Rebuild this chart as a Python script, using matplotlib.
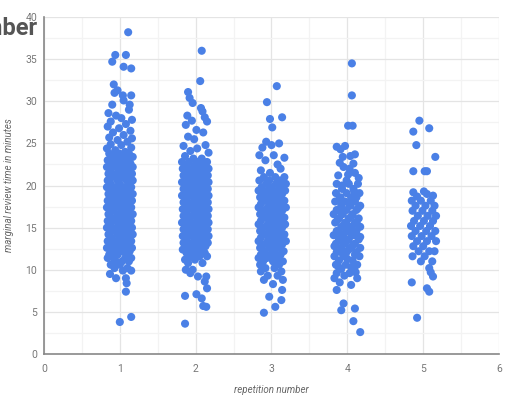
import matplotlib.pyplot as plt
from matplotlib.ticker import MultipleLocator

# (repetition + jitter, minutes), one list per repetition
rep1 = [
    (1.11, 38.2), (0.94, 35.5), (1.08, 35.5), (0.90, 34.7), (1.05, 34.1), (1.15, 33.9),
    (0.92, 32.0), (0.97, 31.3), (0.93, 31.0), (1.04, 30.7), (1.15, 30.7), (1.05, 30.1),
    (1.13, 29.6), (0.90, 29.6), (1.12, 29.0), (0.85, 28.6), (1.16, 27.8), (0.95, 28.3),
    (1.02, 28.0), (0.88, 27.6), (1.08, 27.3), (0.84, 27.0), (0.99, 26.8), (1.14, 26.5),
    (0.91, 26.3), (1.05, 26.0), (0.86, 25.7), (1.16, 25.6), (0.97, 25.4), (1.10, 25.2),
    (0.88, 24.9), (1.02, 24.8), (1.15, 24.5), (0.83, 24.4), (0.94, 24.2), (1.07, 24.0),
    (0.86, 23.8), (0.99, 23.8), (1.12, 23.8), (0.92, 23.4), (1.05, 23.4), (1.17, 23.4),
    (0.84, 23.0), (0.97, 23.0), (1.10, 23.0), (0.89, 22.6), (1.02, 22.6), (1.14, 22.6),
    (0.83, 22.2), (0.95, 22.2), (1.08, 22.2), (1.17, 22.2), (0.88, 21.8), (1.01, 21.8),
    (1.13, 21.8), (0.85, 21.4), (0.96, 21.4), (1.06, 21.4), (1.16, 21.4), (0.90, 21.0),
    (1.03, 21.0), (1.12, 21.0), (0.84, 20.6), (0.97, 20.6), (1.09, 20.6), (1.17, 20.6),
    (0.88, 20.2), (1.00, 20.2), (1.13, 20.2), (0.83, 19.8), (0.94, 19.8), (1.06, 19.8),
    (1.15, 19.8), (0.89, 19.4), (1.02, 19.4), (1.11, 19.4), (0.85, 19.0), (0.97, 19.0),
    (1.08, 19.0), (1.17, 19.0), (0.91, 18.6), (1.03, 18.6), (1.13, 18.6), (0.84, 18.2),
    (0.95, 18.2), (1.06, 18.2), (1.16, 18.2), (0.88, 17.8), (1.00, 17.8), (1.11, 17.8),
    (0.83, 17.4), (0.94, 17.4), (1.05, 17.4), (1.15, 17.4), (0.90, 17.0), (1.02, 17.0),
    (1.12, 17.0), (0.85, 16.6), (0.97, 16.6), (1.08, 16.6), (1.17, 16.6), (0.89, 16.2),
    (1.01, 16.2), (1.13, 16.2), (0.84, 15.8), (0.95, 15.8), (1.06, 15.8), (1.15, 15.8),
    (0.88, 15.4), (1.00, 15.4), (1.11, 15.4), (0.83, 15.0), (0.96, 15.0), (1.07, 15.0),
    (1.16, 15.0), (0.90, 14.6), (1.03, 14.6), (1.13, 14.6), (0.85, 14.2), (0.97, 14.2),
    (1.09, 14.2), (1.17, 14.2), (0.89, 13.8), (1.01, 13.8), (1.12, 13.8), (0.84, 13.4),
    (0.95, 13.4), (1.06, 13.4), (1.15, 13.4), (0.88, 13.0), (1.00, 13.0), (1.10, 13.0),
    (0.83, 12.6), (0.94, 12.6), (1.05, 12.6), (1.16, 12.6), (0.90, 12.2), (1.02, 12.2),
    (1.13, 12.2), (0.86, 11.8), (0.97, 11.8), (1.09, 11.8), (0.84, 11.4), (0.92, 11.4),
    (1.07, 11.4), (1.15, 11.4), (0.95, 11.0), (1.03, 11.0), (1.12, 11.0), (0.88, 10.6),
    (1.00, 10.6), (0.93, 10.2), (1.10, 10.2), (1.04, 9.9), (1.15, 9.9), (0.87, 9.5),
    (0.95, 9.0), (1.08, 9.0), (1.09, 8.4), (1.08, 7.4), (1.15, 4.4), (1.00, 3.8),
]

rep2 = [
    (2.08, 36.0), (2.06, 32.4), (1.90, 31.1), (1.92, 30.4), (1.96, 29.8), (2.07, 29.2),
    (2.09, 28.8), (2.12, 28.1), (1.89, 28.3), (1.95, 27.7), (1.87, 27.2), (2.15, 27.6),
    (2.01, 26.6), (2.10, 26.3), (1.90, 25.8), (1.98, 25.5), (1.84, 24.7), (2.02, 24.4),
    (2.13, 24.8), (1.93, 24.1), (2.17, 23.9), (1.86, 23.5), (1.97, 23.2), (2.08, 23.2),
    (1.82, 22.8), (1.91, 22.8), (2.03, 22.8), (2.15, 22.8), (1.87, 22.4), (1.99, 22.4),
    (2.10, 22.4), (1.83, 22.0), (1.95, 22.0), (2.05, 22.0), (2.17, 22.0), (1.89, 21.6),
    (2.01, 21.6), (2.12, 21.6), (1.84, 21.2), (1.96, 21.2), (2.07, 21.2), (2.16, 21.2),
    (1.90, 20.8), (2.02, 20.8), (2.12, 20.8), (1.82, 20.4), (1.94, 20.4), (2.06, 20.4),
    (2.17, 20.4), (1.88, 20.0), (2.00, 20.0), (2.11, 20.0), (1.84, 19.6), (1.96, 19.6),
    (2.07, 19.6), (2.16, 19.6), (1.90, 19.2), (2.02, 19.2), (2.13, 19.2), (1.82, 18.8),
    (1.95, 18.8), (2.06, 18.8), (2.17, 18.8), (1.88, 18.4), (2.00, 18.4), (2.11, 18.4),
    (1.84, 18.0), (1.96, 18.0), (2.07, 18.0), (2.16, 18.0), (1.90, 17.6), (2.02, 17.6),
    (2.13, 17.6), (1.83, 17.2), (1.95, 17.2), (2.06, 17.2), (2.17, 17.2), (1.88, 16.8),
    (2.00, 16.8), (2.11, 16.8), (1.84, 16.4), (1.96, 16.4), (2.07, 16.4), (2.16, 16.4),
    (1.90, 16.0), (2.02, 16.0), (2.13, 16.0), (1.82, 15.6), (1.94, 15.6), (2.06, 15.6),
    (2.17, 15.6), (1.88, 15.2), (2.00, 15.2), (2.11, 15.2), (1.84, 14.8), (1.96, 14.8),
    (2.07, 14.8), (2.16, 14.8), (1.90, 14.4), (2.02, 14.4), (2.13, 14.4), (1.83, 14.0),
    (1.95, 14.0), (2.06, 14.0), (2.17, 14.0), (1.88, 13.6), (2.00, 13.6), (2.11, 13.6),
    (1.84, 13.2), (1.96, 13.2), (2.07, 13.2), (2.16, 13.2), (1.90, 12.8), (2.02, 12.8),
    (2.13, 12.8), (1.83, 12.4), (1.95, 12.4), (2.06, 12.4), (1.88, 12.0), (2.00, 12.0),
    (2.12, 12.0), (1.93, 11.6), (2.05, 11.6), (2.15, 11.6), (1.86, 11.2), (1.99, 11.2),
    (1.90, 10.8), (2.09, 10.8), (1.87, 10.0), (1.96, 10.0), (1.93, 9.6), (2.14, 9.2),
    (2.03, 9.2), (2.12, 8.6), (2.15, 7.8), (1.86, 6.9), (2.01, 7.1), (2.08, 6.6),
    (2.10, 5.7), (2.14, 5.6), (1.86, 3.6),
]

rep3 = [
    (3.07, 31.8), (2.94, 29.9), (2.98, 27.9), (3.14, 28.1), (3.01, 26.9), (2.93, 25.2),
    (3.10, 25.0), (2.88, 24.5), (3.00, 24.8), (2.84, 23.6), (3.03, 23.6), (3.17, 23.3),
    (2.92, 23.0), (3.08, 22.5), (2.86, 21.8), (3.12, 22.0), (2.98, 21.5), (2.90, 21.0),
    (3.05, 21.0), (3.17, 21.0), (2.84, 20.6), (2.97, 20.6), (3.11, 20.6), (2.93, 20.2),
    (3.06, 20.2), (3.19, 20.2), (2.87, 19.8), (3.00, 19.8), (3.13, 19.8), (2.83, 19.4),
    (2.95, 19.4), (3.08, 19.4), (3.18, 19.4), (2.90, 19.0), (3.03, 19.0), (3.14, 19.0),
    (2.85, 18.6), (2.98, 18.6), (3.10, 18.6), (2.92, 18.2), (3.05, 18.2), (3.17, 18.2),
    (2.86, 17.8), (3.00, 17.8), (3.12, 17.8), (2.83, 17.4), (2.95, 17.4), (3.08, 17.4),
    (3.19, 17.4), (2.89, 17.0), (3.02, 17.0), (3.14, 17.0), (2.85, 16.6), (2.97, 16.6),
    (3.10, 16.6), (2.92, 16.2), (3.05, 16.2), (3.17, 16.2), (2.86, 15.8), (3.00, 15.8),
    (3.12, 15.8), (2.83, 15.4), (2.95, 15.4), (3.08, 15.4), (3.18, 15.4), (2.89, 15.0),
    (3.02, 15.0), (3.14, 15.0), (2.85, 14.6), (2.97, 14.6), (3.10, 14.6), (2.92, 14.2),
    (3.05, 14.2), (3.17, 14.2), (2.86, 13.8), (3.00, 13.8), (3.12, 13.8), (2.83, 13.4),
    (2.95, 13.4), (3.08, 13.4), (3.19, 13.4), (2.89, 13.0), (3.02, 13.0), (3.14, 13.0),
    (2.85, 12.6), (2.97, 12.6), (3.10, 12.6), (2.91, 12.2), (3.04, 12.2), (3.16, 12.2),
    (2.86, 11.8), (2.99, 11.8), (3.12, 11.8), (2.83, 11.4), (2.94, 11.4), (3.07, 11.4),
    (2.89, 11.0), (3.02, 11.0), (3.15, 11.0), (2.85, 10.6), (3.10, 10.6), (2.92, 10.2),
    (3.04, 10.2), (2.86, 9.8), (3.13, 9.8), (2.95, 9.3), (3.08, 9.3), (2.90, 8.8),
    (3.15, 8.8), (3.02, 8.3), (3.14, 7.6), (2.97, 6.8), (3.13, 6.4), (3.05, 5.6),
    (2.90, 4.9),
]

rep4 = [
    (4.06, 34.5), (4.06, 30.7), (4.01, 27.1), (4.07, 27.1), (3.86, 24.6), (3.97, 24.7),
    (3.91, 24.3), (4.10, 23.7), (3.94, 23.4), (4.04, 23.5), (3.95, 22.2), (4.03, 22.0),
    (4.10, 21.5), (4.15, 20.9), (3.88, 21.2), (3.99, 20.6), (3.86, 20.2), (4.02, 20.2),
    (4.14, 20.2), (3.93, 19.6), (4.08, 19.6), (3.85, 19.1), (3.99, 19.1), (4.16, 19.1),
    (3.91, 18.6), (4.05, 18.6), (4.12, 18.6), (3.84, 18.1), (3.97, 18.1), (4.10, 18.1),
    (3.92, 17.6), (4.04, 17.6), (4.17, 17.6), (3.86, 17.1), (3.99, 17.1), (4.12, 17.1),
    (3.82, 16.6), (3.94, 16.6), (4.07, 16.6), (3.89, 16.1), (4.02, 16.1), (4.15, 16.1),
    (3.84, 15.6), (3.97, 15.6), (4.10, 15.6), (3.92, 15.1), (4.05, 15.1), (4.17, 15.1),
    (3.86, 14.6), (3.99, 14.6), (4.12, 14.6), (3.82, 14.1), (3.95, 14.1), (4.08, 14.1),
    (3.89, 13.6), (4.02, 13.6), (4.15, 13.6), (3.85, 13.1), (3.97, 13.1), (4.10, 13.1),
    (3.92, 12.6), (4.05, 12.6), (4.17, 12.6), (3.86, 12.1), (3.99, 12.1), (4.12, 12.1),
    (3.83, 11.6), (3.95, 11.6), (4.16, 11.6), (3.89, 11.1), (4.07, 11.1), (3.85, 10.6),
    (3.98, 10.6), (4.13, 10.6), (3.92, 10.1), (4.09, 10.1), (3.86, 9.6), (4.03, 9.6),
    (3.83, 9.0), (4.13, 9.0), (3.90, 8.5), (4.05, 8.2), (3.86, 7.6), (3.95, 6.0),
    (3.92, 5.2), (4.10, 5.4), (4.08, 3.9), (4.17, 2.6),
    (4.08, 22.6), (3.90, 22.7), (4.01, 21.3), (3.93, 20.0), (4.09, 19.3), (3.89, 18.3),
    (4.02, 17.9), (4.14, 17.3), (3.91, 16.9), (4.06, 16.4), (3.87, 15.9), (4.00, 15.3),
    (4.13, 15.4), (3.90, 14.4), (4.05, 14.3), (4.17, 13.9), (3.93, 13.4), (4.07, 12.9),
    (3.83, 12.8), (4.02, 12.4), (3.94, 11.9), (4.10, 11.8), (4.00, 11.3), (3.88, 10.4),
    (4.05, 10.3), (3.96, 9.3), (4.11, 9.7),
]

rep5 = [
    (4.95, 27.7), (4.87, 26.4), (5.08, 26.8), (4.91, 24.8), (5.16, 23.4), (4.87, 21.7),
    (5.02, 21.7), (5.05, 21.7), (4.87, 19.2), (5.01, 19.3), (5.05, 19.0), (4.92, 18.7),
    (5.13, 18.8), (4.85, 18.2), (4.97, 18.2), (5.10, 18.2), (4.90, 17.6), (5.03, 17.6),
    (5.15, 17.6), (4.86, 17.0), (4.99, 17.0), (5.12, 17.0), (4.93, 16.4), (5.06, 16.4),
    (5.17, 16.4), (4.88, 15.8), (5.01, 15.8), (5.13, 15.8), (4.84, 15.2), (4.96, 15.2),
    (5.09, 15.2), (4.90, 14.6), (5.04, 14.6), (5.16, 14.6), (4.85, 14.0), (4.98, 14.0),
    (5.11, 14.0), (4.92, 13.4), (5.05, 13.4), (5.17, 13.4), (4.87, 12.8), (5.00, 12.8),
    (4.94, 12.2), (5.08, 12.2), (5.15, 12.2), (4.86, 11.6), (5.02, 11.6), (4.97, 11.0),
    (5.12, 11.0), (5.08, 10.2), (5.10, 9.7), (5.13, 9.2), (4.85, 8.5), (5.05, 7.8),
    (5.08, 7.4), (4.92, 4.3),
]

groups = [rep1, rep2, rep3, rep4, rep5]

plt.rcParams['font.family'] = ['Roboto', 'DejaVu Sans']

fig = plt.figure(figsize=(5.14, 3.95), dpi=100)
ax = fig.add_axes([0.0856, 0.1038, 0.8852, 0.853])

for g in groups:
    xs = [p[0] for p in g]
    ys = [p[1] for p in g]
    ax.scatter(xs, ys, s=34, color='#4a80e6', edgecolors='none', zorder=3)

ax.set_xlim(0, 6)
ax.set_ylim(0, 40)
ax.xaxis.set_major_locator(MultipleLocator(1))
ax.xaxis.set_minor_locator(MultipleLocator(0.5))
ax.yaxis.set_major_locator(MultipleLocator(5))
ax.yaxis.set_minor_locator(MultipleLocator(2.5))
ax.grid(which='major', color='#e4e4e4', linewidth=0.9)
ax.grid(which='minor', color='#f3f3f3', linewidth=0.9)
ax.set_axisbelow(True)

for s in ['top', 'right']:
    ax.spines[s].set_visible(False)
for s in ['left', 'bottom']:
    ax.spines[s].set_color('#888888')
    ax.spines[s].set_linewidth(1.2)

ax.tick_params(which='both', length=0, labelsize=7.5, labelcolor='#777777')
ax.tick_params(axis='x', pad=7)
ax.tick_params(axis='y', pad=5)

ax.set_xlabel('repetition number', fontsize=7, style='italic', color='#666666', labelpad=8)
ax.set_ylabel('marginal review time in minutes', fontsize=7, style='italic', color='#666666', labelpad=8)

# the title sits mostly off the left edge in the reference, only its end shows
fig.text(0.074, 0.912, 'Number', ha='right', va='baseline', fontsize=17,
         fontweight='bold', color='#555555')

fig.savefig('out.png', dpi=100)
